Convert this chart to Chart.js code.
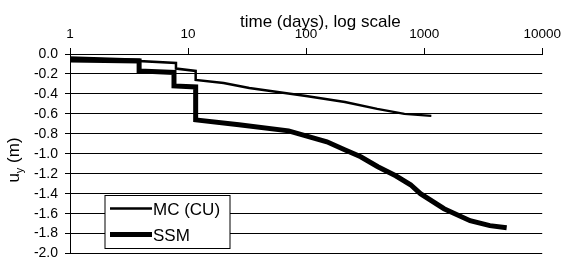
<!DOCTYPE html>
<html>
<head>
<meta charset="utf-8">
<script src="https://cdn.jsdelivr.net/npm/chart.js@4/dist/chart.umd.min.js"></script>
<style>
  html, body { margin: 0; padding: 0; background: #fff; }
  #wrap { width: 567px; height: 269px; position: relative; }
</style>
</head>
<body>
<div id="wrap"><canvas id="chart"></canvas></div>
<script>
const FONT = '"Liberation Sans", Arial, sans-serif';

// time in days (log axis), displacement u_y in m
const mcTime = [1, 3.85, 3.85, 7.9, 7.9, 11.6, 11.6, 20, 33, 50, 100, 213, 400, 680, 1150];
const mcDisp = [-0.035, -0.057, -0.07, -0.09, -0.146, -0.17, -0.26, -0.29, -0.34, -0.37, -0.42, -0.48, -0.55, -0.60, -0.62];

const ssmTime = [1, 3.85, 3.85, 7.6, 7.6, 11.6, 11.6, 27, 71, 150, 212, 290, 405, 574, 767, 930, 1473, 2450, 3600, 5000];
const ssmDisp = [-0.06, -0.07, -0.17, -0.185, -0.32, -0.33, -0.66, -0.71, -0.77, -0.88, -0.96, -1.03, -1.13, -1.22, -1.31, -1.40, -1.55, -1.67, -1.72, -1.74];

const xTicks = [1, 10, 100, 1000, 10000];
const yMin = -2.0, yMax = 0.0, yStep = 0.2;

const seriesNames = ['MC (CU)', 'SSM'];
const xTitle = 'time (days), log scale';

function toPoints(ts, ys) {
  return ts.map((t, i) => ({ x: t, y: ys[i] }));
}

// titles + boxed legend drawn on the canvas
const extras = {
  id: 'extras',
  afterDraw(chart) {
    const ctx = chart.ctx;
    const area = chart.chartArea;
    ctx.save();
    ctx.fillStyle = '#000';

    // top axis title
    ctx.font = '17px ' + FONT;
    ctx.textAlign = 'left';
    ctx.textBaseline = 'alphabetic';
    ctx.fillText(xTitle, 240, 27);

    // y axis title with subscript
    ctx.save();
    ctx.translate(19, 160);
    ctx.rotate(-Math.PI / 2);
    ctx.font = '17px ' + FONT;
    const wU = ctx.measureText('u').width;
    ctx.font = '11px ' + FONT;
    const wY = ctx.measureText('y').width;
    ctx.font = '17px ' + FONT;
    const wM = ctx.measureText(' (m)').width;
    let x0 = -(wU + wY + wM) / 2;
    ctx.fillText('u', x0, 0);
    ctx.font = '11px ' + FONT;
    ctx.fillText('y', x0 + wU, 4);
    ctx.font = '17px ' + FONT;
    ctx.fillText(' (m)', x0 + wU + wY, 0);
    ctx.restore();

    // legend box
    const bx = area.left + 35, by = 195.5, bw = 125, bh = 53;
    ctx.fillStyle = '#fff';
    ctx.fillRect(bx, by, bw, bh);
    ctx.strokeStyle = '#000';
    ctx.lineWidth = 1;
    ctx.strokeRect(bx, by, bw, bh);
    const rows = [208.5, 234.5];
    chart.data.datasets.forEach((ds, i) => {
      ctx.strokeStyle = ds.borderColor;
      ctx.lineWidth = ds.borderWidth;
      ctx.beginPath();
      ctx.moveTo(bx + 5, rows[i]);
      ctx.lineTo(bx + 47, rows[i]);
      ctx.stroke();
      ctx.fillStyle = '#000';
      ctx.font = '17px ' + FONT;
      ctx.textAlign = 'left';
      ctx.textBaseline = 'middle';
      ctx.fillText(ds.label, bx + 48, rows[i] + 2);
    });
    ctx.restore();
  }
};

new Chart(document.getElementById('chart'), {
  type: 'line',
  data: {
    datasets: [
      {
        label: seriesNames[0],
        data: toPoints(mcTime, mcDisp),
        borderColor: '#000',
        borderWidth: 2.5,
        pointRadius: 0,
        tension: 0,
        fill: false
      },
      {
        label: seriesNames[1],
        data: toPoints(ssmTime, ssmDisp),
        borderColor: '#000',
        borderWidth: 5,
        pointRadius: 0,
        tension: 0,
        fill: false
      }
    ]
  },
  options: {
    responsive: true,
    maintainAspectRatio: false,
    animation: false,
    layout: { padding: { left: 0, right: 21, top: 0, bottom: 5 } },
    plugins: {
      legend: { display: false },
      tooltip: { enabled: false }
    },
    scales: {
      x: {
        type: 'logarithmic',
        position: 'top',
        min: 1,
        max: 10000,
        afterBuildTicks: s => { s.ticks = xTicks.map(v => ({ value: v })); },
        afterFit: s => { s.height = 54; },
        ticks: {
          color: '#000',
          font: { family: FONT, size: 13.5 },
          padding: 6,
          maxRotation: 0,
          autoSkip: false,
          callback: v => String(v)
        },
        grid: { drawOnChartArea: false, color: '#000', tickLength: 6, lineWidth: 1 },
        border: { color: '#000', width: 1 }
      },
      y: {
        min: yMin,
        max: yMax,
        afterFit: s => { s.width = 70; },
        ticks: {
          stepSize: yStep,
          autoSkip: false,
          color: '#000',
          font: { family: FONT, size: 14 },
          padding: 7,
          callback: v => (Math.abs(v) < 1e-9 ? 0 : v).toFixed(1)
        },
        grid: { color: '#000', tickLength: 5, lineWidth: 1 },
        border: { color: '#000', width: 1 }
      }
    }
  },
  plugins: [extras]
});
</script>
</body>
</html>
